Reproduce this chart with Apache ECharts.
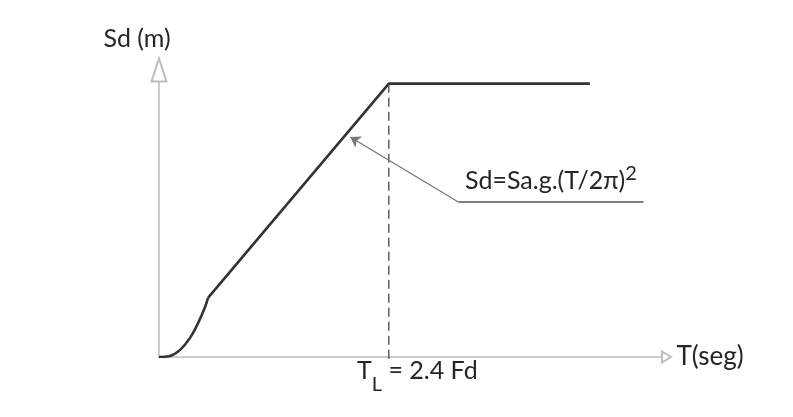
<!DOCTYPE html>
<html lang="es">
<head>
    <meta charset="UTF-8">
    <title>Sd - T</title>
    <script src="https://cdn.jsdelivr.net/npm/echarts@6/dist/echarts.min.js"></script>
    <style>
        html, body { margin: 0; padding: 0; background: #fff; }
        #container { width: 793px; height: 417px; }
    </style>
</head>
<body>
<div id="container"></div>
<script>
    // curva inicial (tramo curvo hasta el quiebre)
    var curveT  = [0, 0.115, 0.22, 0.324, 0.408, 0.481, 0.512];
    var curveSd = [0, 0.004, 0.026, 0.070, 0.124, 0.183, 0.216];
    // tramo recto y meseta
    var lineT  = [0.512, 2.4, 4.5];
    var lineSd = [0.216, 1.0, 1.0];
    // periodo TL y linea discontinua
    var TL = 2.4;
    var dashSd = [1.0, -0.022];
    // flecha de la anotacion y linea de referencia
    var arrowFrom = [3.126, 0.567];
    var arrowTo   = [1.997, 0.805];
    var leaderEnd = [5.06, 0.567];

    var FONT = 'Lato';
    var TXT = '#262626';
    var FS = 25;

    function pairs(xs, ys) {
        return xs.map(function (x, i) { return [x, ys[i]]; });
    }

    var formulaLabel = {
        show: true,
        position: 'insideMiddleTop',
        distance: 4,
        formatter: '{a|Sd=Sa.g.(T/2\u03c0)}{b|2}',
        rich: {
            a: { fontFamily: FONT, fontSize: FS, color: TXT },
            b: { fontFamily: FONT, fontSize: 20, color: TXT, padding: [0, 0, 14, 0] }
        }
    };
    var leaderStyle = { color: '#555', width: 1.5, type: 'solid' };

    var chart = echarts.init(document.getElementById('container'));
    var option = {
        animation: false,
        backgroundColor: '#fff',
        grid: { left: 159, right: 126.5, top: 70, bottom: 60 },
        xAxis: {
            type: 'value',
            min: 0,
            max: 5.3,
            name: 'T(seg)',
            nameLocation: 'end',
            nameGap: 10,
            nameTextStyle: { fontFamily: FONT, fontSize: 26, color: TXT },
            axisLine: {
                show: true,
                onZero: false,
                symbol: ['none', 'emptyTriangle'],
                symbolSize: [11, 9],
                lineStyle: { color: '#bdbdbd', width: 1.5 }
            },
            axisTick: { show: false },
            splitLine: { show: false },
            axisLabel: {
                customValues: [TL],
                margin: -10,
                padding: [0, 0, 0, 57],
                formatter: function () {
                    return '{t|T}{s|L}{e| = 2.4 Fd}';
                },
                rich: {
                    t: { fontFamily: FONT, fontSize: FS, color: TXT },
                    s: { fontFamily: FONT, fontSize: 20, color: TXT, padding: [28, 0, 0, 0] },
                    e: { fontFamily: FONT, fontSize: FS, color: TXT }
                }
            }
        },
        yAxis: {
            type: 'value',
            min: 0,
            max: 1.05,
            name: 'Sd (m)',
            nameLocation: 'end',
            nameGap: 19,
            nameTextStyle: {
                fontFamily: FONT, fontSize: FS, color: TXT,
                align: 'center', verticalAlign: 'bottom',
                padding: [0, 44, 0, 0]
            },
            axisLine: {
                show: true,
                onZero: false,
                symbol: ['none', 'emptyTriangle'],
                symbolSize: [15, 23],
                lineStyle: { color: '#bdbdbd', width: 1.5 }
            },
            axisTick: { show: false },
            axisLabel: { show: false },
            splitLine: { show: false }
        },
        series: [
            {
                type: 'line',
                data: pairs(curveT, curveSd),
                smooth: 0.4,
                symbol: 'none',
                lineStyle: { color: '#333', width: 2.6 }
            },
            {
                type: 'line',
                data: pairs(lineT, lineSd),
                symbol: 'none',
                lineStyle: { color: '#333', width: 2.6 }
            },
            {
                type: 'line',
                data: [[TL, dashSd[0]], [TL, dashSd[1]]],
                clip: false,
                symbol: 'none',
                lineStyle: { color: '#444', width: 1.3, type: [9, 5] },
                markLine: {
                    silent: true,
                    animation: false,
                    lineStyle: { color: '#777', width: 1.3, type: 'solid' },
                    label: { show: false },
                    data: [
                        [
                            { coord: arrowFrom, symbol: 'none' },
                            { coord: arrowTo, symbol: 'arrow', symbolSize: 10 }
                        ],
                        [
                            { coord: arrowFrom, symbol: 'none', lineStyle: leaderStyle, label: formulaLabel },
                            { coord: leaderEnd, symbol: 'none', lineStyle: leaderStyle, label: formulaLabel }
                        ]
                    ]
                }
            }
        ]
    };
    chart.setOption(option);
</script>
</body>
</html>
